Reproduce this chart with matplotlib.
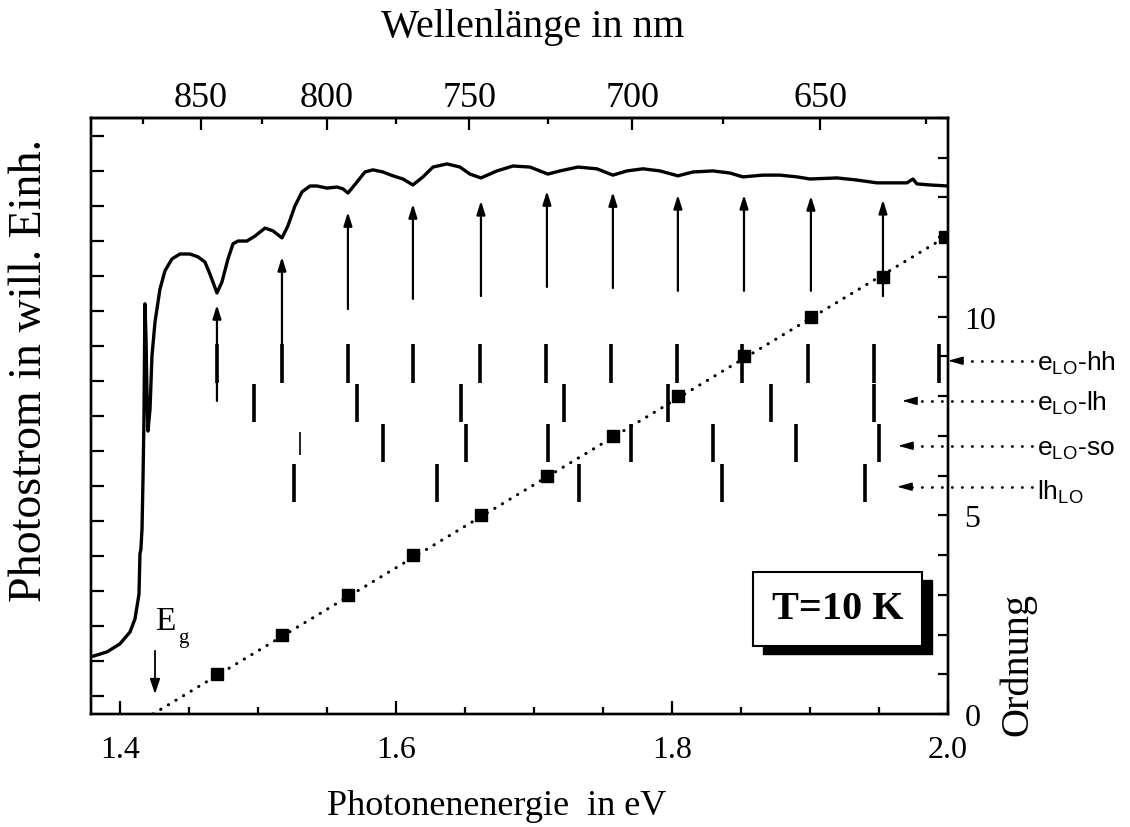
import matplotlib.pyplot as plt
import numpy as np
from matplotlib.patches import Rectangle
from matplotlib.ticker import FixedLocator, MultipleLocator

plt.rcParams['font.family'] = ['Liberation Serif', 'DejaVu Serif']
plt.rcParams['mathtext.fontset'] = 'custom'
plt.rcParams['mathtext.rm'] = 'Liberation Sans'

# photocurrent spectrum, photon energy in eV / arb. units
energy = [1.3790, 1.3906, 1.4000, 1.4073, 1.4109, 1.4138, 1.4145, 1.4152, 1.4160, 1.4167,
          1.4174, 1.4181, 1.4189, 1.4196, 1.4203, 1.4218, 1.4232, 1.4254, 1.4290, 1.4326,
          1.4377, 1.4435, 1.4507, 1.4565, 1.4616, 1.4652, 1.4703, 1.4739, 1.4783, 1.4819,
          1.4855, 1.4920, 1.4978, 1.5051, 1.5109, 1.5174, 1.5217, 1.5268, 1.5319, 1.5377,
          1.5428, 1.5500, 1.5573, 1.5616, 1.5652, 1.5717, 1.5775, 1.5833, 1.5906, 1.5978,
          1.6051, 1.6123, 1.6196, 1.6268, 1.6370, 1.6464, 1.6536, 1.6616, 1.6732, 1.6848,
          1.6971, 1.7101, 1.7188, 1.7319, 1.7456, 1.7572, 1.7674, 1.7790, 1.7913, 1.8043,
          1.8152, 1.8297, 1.8420, 1.8514, 1.8659, 1.8782, 1.8906, 1.9000, 1.9196, 1.9340,
          1.9485, 1.9703, 1.9746, 1.9775, 1.9869, 2.0000]
photocurrent = [1.13, 1.27, 1.50, 1.84, 2.21, 2.92, 4.07, 4.21, 4.78, 6.20,
                7.91, 11.20, 10.20, 8.60, 7.57, 8.20, 9.71, 10.68, 11.62, 12.14,
                12.48, 12.62, 12.62, 12.54, 12.39, 12.05, 11.51, 11.82, 12.48, 12.91,
                12.99, 12.99, 13.13, 13.36, 13.28, 13.08, 13.42, 13.99, 14.39, 14.56,
                14.56, 14.50, 14.53, 14.48, 14.36, 14.67, 14.96, 15.02, 14.96, 14.85,
                14.76, 14.59, 14.82, 15.10, 15.19, 15.10, 14.90, 14.79, 14.99, 15.13,
                15.10, 14.90, 14.99, 15.10, 15.05, 14.87, 14.99, 15.05, 14.99, 14.85,
                14.96, 14.99, 14.93, 14.82, 14.87, 14.87, 14.82, 14.76, 14.79, 14.73,
                14.65, 14.65, 14.76, 14.62, 14.59, 14.56]

# oscillation minima and their order
order = [1, 2, 3, 4, 5, 6, 7, 8, 9, 10, 11, 12]
order_E = [1.4703, 1.5174, 1.5652, 1.6123, 1.6616, 1.7094, 1.7572, 1.8043, 1.8522,
           1.9007, 1.9529, 1.9978]
fit_E = [1.4240, 2.0]
fit_n = [0, 12.04]
E_gap = 1.4254

# arrows marking the minima (start / tip, arb. units)
arrow_bottom = [8.43, 8.97, 11.05, 11.34, 11.42, 11.68, 11.65, 11.57, 11.57, 11.57, 11.42]
arrow_top = [11.17, 12.54, 13.82, 14.05, 14.14, 14.42, 14.39, 14.31, 14.31, 14.28, 14.17]

# calculated transition energies
hh_E = [1.4703, 1.5174, 1.5652, 1.6123, 1.6609, 1.7087, 1.7558, 1.8036, 1.8507,
        1.8985, 1.9464, 1.9935]
lh_E = [1.4971, 1.5717, 1.6471, 1.7217, 1.7971, 1.8717, 1.9464]
so_E = [1.5906, 1.6507, 1.7101, 1.7703, 1.8297, 1.8898, 1.9500]
so_weak_E = [1.5304]
lhLO_E = [1.5261, 1.6297, 1.7326, 1.8362, 1.9398]

row_E = [hh_E, lh_E, so_E, lhLO_E]
row_level = [8.82, 7.83, 6.81, 5.81]
row_labels = [r'e$_{\mathrm{LO}}$-hh', r'e$_{\mathrm{LO}}$-lh', r'e$_{\mathrm{LO}}$-so',
              r'lh$_{\mathrm{LO}}$']
label_y = [8.89, 7.88, 6.75, 5.72]
label_tip = [2.0, 1.9667, 1.9638, 1.9631]
label_off = [6, 6, 6, 8.5]


def ev_to_nm(e):
    with np.errstate(divide='ignore'):
        return 1239.84 / np.asarray(e, dtype=float)


fig = plt.figure(figsize=(11.3, 8.28), dpi=100)
ax = fig.add_axes([0.0805, 0.1365, 0.7584, 0.7198])

ax.plot(energy, photocurrent, color='black', lw=2.4, solid_joinstyle='round')
for E, b, t in zip(order_E, arrow_bottom, arrow_top):
    ax.annotate('', xy=(E, t), xytext=(E, b),
                arrowprops=dict(arrowstyle='-|>,head_length=0.8,head_width=0.25',
                                lw=1.6, color='black', mutation_scale=10,
                                shrinkA=0, shrinkB=0))

ax.set_xlim(1.379, 2.0)
ax.set_ylim(-0.5, 16.5)
ax.set_xticks([1.4, 1.6, 1.8, 2.0])
ax.set_xticklabels(['1.4', '1.6', '1.8', '2.0'])
ax.xaxis.set_minor_locator(MultipleLocator(0.05))
ax.set_yticks(range(17))
ax.tick_params(axis='x', which='major', direction='in', length=9.5, width=1.6,
               labelsize=23, pad=15, top=False)
ax.tick_params(axis='x', which='minor', direction='in', length=5, width=1.6, top=False)
ax.tick_params(axis='y', direction='in', length=9, width=1.6, labelleft=False, right=False)
for s in ax.spines.values():
    s.set_linewidth(1.7)

# order axis on the right
ax2 = ax.twinx()
ax2.set_ylim(0, 15)
ax2.plot(fit_E, fit_n, color='black', lw=2.2, dashes=(0.1, 2.8), dash_capstyle='round')
ax2.plot(order_E, order, 's', color='black', ms=9)
for Es, lev in zip(row_E, row_level):
    ax2.vlines(Es, lev - 0.48, lev + 0.48, color='black', lw=2.6)
ax2.vlines(so_weak_E, row_level[2] - 0.28, row_level[2] + 0.28, color='black', lw=1.2)

for y, tip, lab, off in zip(label_y, label_tip, row_labels, label_off):
    ax2.plot([2.061, tip + 0.008], [y, y], color='black', lw=2, dashes=(0.1, 3.5),
             dash_capstyle='round', clip_on=False)
    ax2.annotate('', xy=(tip, y), xytext=(tip + 0.010, y), annotation_clip=False,
                 arrowprops=dict(arrowstyle='-|>,head_length=0.9,head_width=0.25',
                                 lw=1, color='black', mutation_scale=10,
                                 shrinkA=0, shrinkB=0))
    ax2.annotate(lab, xy=(2.0645, y), xytext=(0, -off), textcoords='offset points',
                 ha='left', va='baseline', fontsize=19, family='Liberation Sans',
                 annotation_clip=False)

# band gap marker
ax2.annotate('', xy=(E_gap, 0.50), xytext=(E_gap, 1.59),
             arrowprops=dict(arrowstyle='-|>,head_length=0.9,head_width=0.3',
                             lw=1.3, color='black', mutation_scale=10,
                             shrinkA=0, shrinkB=0))
ax2.text(E_gap, 2.14, 'E', fontsize=24, ha='left', va='baseline')
ax2.text(1.4420, 1.80, 'g', fontsize=15, ha='left', va='baseline')

# temperature box with shadow
ax2.add_patch(Rectangle((0.7842, 0.1007), 0.1972, 0.1242, transform=ax2.transAxes,
                        facecolor='black', edgecolor='black', zorder=5))
ax2.add_patch(Rectangle((0.7725, 0.1141), 0.1972, 0.1242, transform=ax2.transAxes,
                        facecolor='white', edgecolor='black', lw=1.5, zorder=6))
ax2.text(0.8711, 0.1762, 'T=10 K', transform=ax2.transAxes, ha='center', va='center',
         fontsize=29, fontweight='bold', zorder=7)

ax2.set_yticks([0, 5, 10])
ax2.set_yticklabels(['0', '5', '10'])
ax2.yaxis.set_minor_locator(MultipleLocator(1))
ax2.tick_params(axis='y', which='both', direction='in', length=7, width=1.6,
                labelsize=23, pad=12)
for s in ax2.spines.values():
    s.set_linewidth(1.7)

# wavelength axis on top
secax = ax.secondary_xaxis('top', functions=(ev_to_nm, ev_to_nm))
secax.set_xticks([850, 800, 750, 700, 650])
secax.set_xticklabels(['850', '800', '750', '700', '650'])
secax.xaxis.set_minor_locator(FixedLocator([875, 825, 775, 725, 675, 625]))
secax.tick_params(axis='x', which='major', direction='in', length=8.5, width=1.6,
                  labelsize=26, pad=3)
secax.tick_params(axis='x', which='minor', direction='in', length=4.5, width=1.6)
for s in secax.spines.values():
    s.set_linewidth(1.7)

fig.text(497 / 1130, 1 - 815 / 828, 'Photonenenergie  in eV', fontsize=26,
         ha='center', va='baseline')
fig.text(533 / 1130, 1 - 37 / 828, 'Wellenlänge in nm', fontsize=29,
         ha='center', va='baseline')
fig.text(30 / 1130, 1 - 370 / 828, 'Photostrom in will. Einh.', fontsize=33,
         rotation=90, ha='center', va='center')
fig.text(1018 / 1130, 1 - 665 / 828, 'Ordnung', fontsize=29, rotation=90,
         ha='center', va='center')

fig.savefig('out.png', dpi=100)
